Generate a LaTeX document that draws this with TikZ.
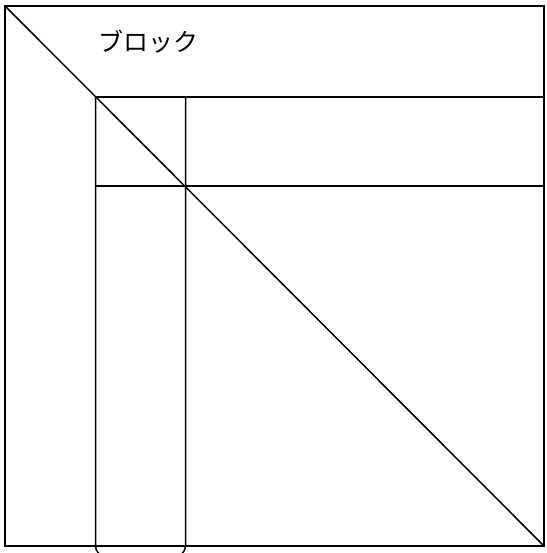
\documentclass[tikz,border=0pt]{standalone}
\usepackage{fontspec}
\newfontfamily\jpfont{Noto Sans CJK JP}
\usepackage{xcolor}
\definecolor{cLine}{HTML}{000000}
\usetikzlibrary{positioning}
\tikzset{
  block-line/.style={draw=cLine,line width=1.5pt},
  block-label/.style={font=\jpfont\fontsize{25}{25}\selectfont,inner sep=0pt},
}

\begin{document}
\begin{tikzpicture}[x=1pt,y=-1pt]
  \useasboundingbox (0,0) rectangle (546,553);
  \clip (0,0) rectangle (546,553);
  \coordinate (outer-tl) at (5,6);
  \coordinate (outer-br) at (544,546);
  \coordinate (band-tl) at (95.5,97);
  \coordinate (band-br) at (544,186);
  \coordinate (col-br) at (185.5,556);
  \draw[block-line] (outer-tl) rectangle (outer-br);
  \draw[block-line] (outer-tl) -- (outer-br);
  % row band and column band
  \draw[block-line] (band-tl) rectangle (band-br);
  \draw[block-line,rounded corners=10pt] (band-tl) -- (band-tl |- col-br)
    -- (col-br) -- (col-br |- band-tl);
  \node[block-label] (title) at (148,42) {ブロック};
\end{tikzpicture}
\end{document}
